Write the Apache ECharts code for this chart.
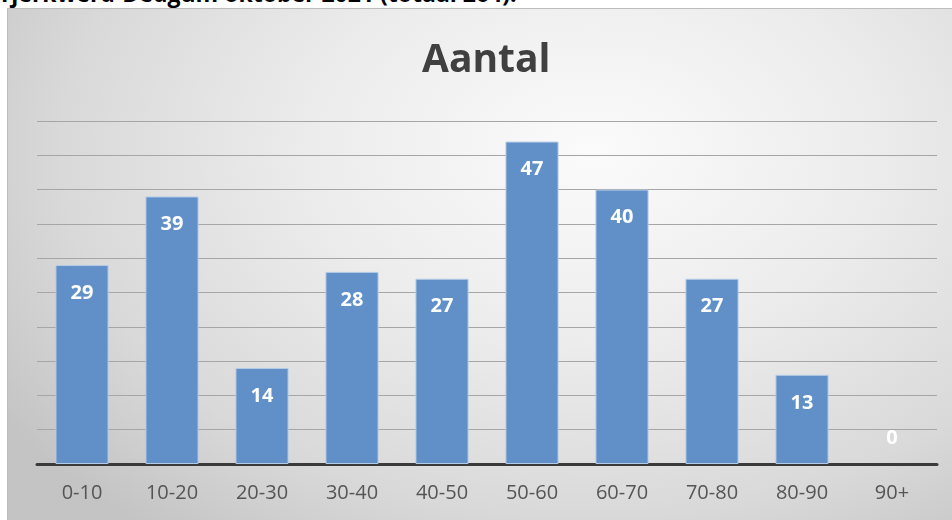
<!DOCTYPE html>
<html><head><meta charset="utf-8">
<script src="https://cdn.jsdelivr.net/npm/echarts@6/dist/echarts.min.js"></script>
<style>
html,body{margin:0;padding:0;width:952px;height:520px;overflow:hidden;background:#fff;font-family:"Open Sans","Noto Sans",sans-serif;}
#head{position:absolute;left:-2px;top:-23px;font-weight:bold;font-size:23px;color:#000;white-space:nowrap;}
#chart{position:absolute;left:7px;top:8px;width:945px;height:512px;border-left:1px solid #bdbdbd;border-top:1px solid #bdbdbd;box-sizing:border-box;
background:radial-gradient(ellipse 75% 95% at 62% 28%, #fbfbfb 0%, #ececec 40%, #d9d9d9 75%, #c4c4c4 100%);}
</style></head>
<body>
<div id="head">Tjerkwerd-Dedgum oktober 2021 (totaal 264).</div>
<div id="chart"></div>
<script>
const chartTitle = "Aantal";
const categories = ["0-10","10-20","20-30","30-40","40-50","50-60","60-70","70-80","80-90","90+"];
const values = [29,39,14,28,27,47,40,27,13,0];

const font = '"Open Sans","Noto Sans",sans-serif';
const seriesData = values.map(v => v === 0
  ? {value: v, itemStyle:{borderWidth:0, color:'transparent'}, label:{position:'top', distance:16}}
  : v);

const chart = echarts.init(document.getElementById('chart'), null, {renderer:'canvas'});
chart.setOption({
  backgroundColor: 'transparent',
  animation: false,
  title: {text: chartTitle, left: 409, top: 27,
    textStyle:{fontFamily:font, fontSize:39, fontWeight:'bold', color:'#404040'}},
  grid: {left: 29, right: 15, top: 112, bottom: 56},
  xAxis: {type:'category', data: categories,
    axisLine:{lineStyle:{color:'#3a3a3a', width:3}},
    axisTick:{show:false},
    axisLabel:{color:'#555555', fontSize:20, margin:19, fontFamily:font}},
  yAxis: {type:'value', min:0, max:50, interval:5,
    axisLabel:{show:false}, axisLine:{show:false}, axisTick:{show:false},
    splitLine:{lineStyle:{color:'#a6a6a6', width:1}}},
  series: [{type:'bar', data: seriesData, barCategoryGap:'41%',
    itemStyle:{color:'#6190c8', borderColor:'#b4cbe6', borderWidth:1},
    label:{show:true, position:'insideTop', distance:18, color:'#ffffff', fontSize:20, fontWeight:'bold',
      fontFamily:font}
  }]
});
</script>
</body></html>
